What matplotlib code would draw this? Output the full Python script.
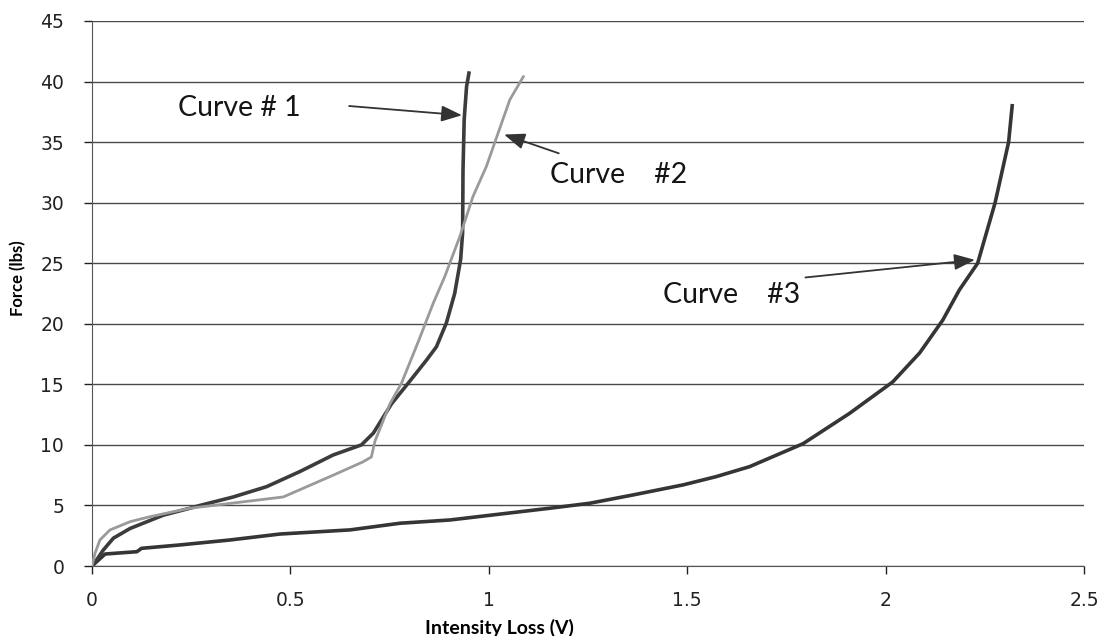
import matplotlib
matplotlib.use('Agg')
import matplotlib.pyplot as plt

# values
curve1_x = [0, 0.003, 0.028, 0.054, 0.096, 0.18, 0.247, 0.272, 0.356, 0.44, 0.524, 0.608,
            0.679, 0.709, 0.755, 0.797, 0.843, 0.868, 0.893, 0.914, 0.929, 0.934, 0.935,
            0.938, 0.944, 0.950]
curve1_y = [0, 0.08, 1.3, 2.3, 3.1, 4.2, 4.77, 5.0, 5.7, 6.55, 7.8, 9.17,
            10.0, 10.97, 13.4, 15.1, 17.0, 18.1, 20.06, 22.5, 25.3, 27.5, 32.7,
            36.9, 39.6, 40.7]

curve2_x = [0, 0.0076, 0.020, 0.045, 0.096, 0.146, 0.247, 0.356, 0.482, 0.608, 0.683,
            0.704, 0.713, 0.751, 0.780, 0.822, 0.860, 0.889, 0.927, 0.960, 0.994, 1.024,
            1.053, 1.087]
curve2_y = [0, 1.05, 2.15, 2.97, 3.66, 4.07, 4.77, 5.2, 5.7, 7.5, 8.6,
            9.0, 10.3, 13.4, 15.1, 18.5, 21.7, 23.9, 27.2, 30.5, 33.0, 35.8,
            38.5, 40.4]

curve3_x = [0, 0.033, 0.113, 0.125, 0.222, 0.348, 0.474, 0.650, 0.776, 0.902, 1.154,
            1.254, 1.364, 1.490, 1.573, 1.657, 1.792, 1.909, 2.018, 2.086, 2.144, 2.186,
            2.232, 2.276, 2.31, 2.319]
curve3_y = [0, 0.99, 1.18, 1.46, 1.74, 2.15, 2.64, 2.98, 3.53, 3.8, 4.77,
            5.18, 5.87, 6.7, 7.38, 8.2, 10.1, 12.6, 15.2, 17.6, 20.3, 22.8,
            25, 30, 35, 38]

x_ticks = [0, 0.5, 1, 1.5, 2, 2.5]
x_tick_labels = ['0', '0.5', '1', '1.5', '2', '2.5']
y_ticks = [0, 5, 10, 15, 20, 25, 30, 35, 40, 45]

labels = ['Curve # 1', 'Curve    #2', 'Curve    #3']
label_pos = [(0.217, 37.8), (1.154, 32.3), (1.438, 22.4)]
arrow_from = [(0.641, 38.0), (1.183, 34.0), (1.791, 23.8)]
arrow_to = [(0.9395, 37.2), (1.032, 35.7), (2.232, 25.3)]

fig = plt.figure(figsize=(11.04, 6.36), dpi=100)
ax = fig.add_axes([92/1104, 70/636, 992/1104, 545/636])

ax.plot(curve3_x, curve3_y, color='#353535', lw=2.6, zorder=3)
ax.plot(curve1_x, curve1_y, color='#3c3c3c', lw=2.6, zorder=3)
ax.plot(curve2_x, curve2_y, color='#9a9a9a', lw=2.0, zorder=4)

ax.set_xlim(0, 2.5)
ax.set_ylim(0, 45)
ax.set_xticks(x_ticks)
ax.set_xticklabels(x_tick_labels)
ax.set_yticks(y_ticks)
ax.tick_params(axis='both', labelsize=13.5, colors='#222222', length=6, width=1, direction='out')
ax.tick_params(axis='x', pad=12)
ax.tick_params(axis='y', pad=14)

ax.grid(axis='y', color='#4a4a4a', lw=1.0)
ax.set_axisbelow(True)
for s in ['top', 'right']:
    ax.spines[s].set_visible(False)
ax.spines['left'].set_color('#555555')
ax.spines['bottom'].set_color('#555555')

ax.set_xlabel('Intensity Loss (V)', fontsize=14, fontweight='bold', family='Lato')
ax.set_ylabel('Force (lbs)', fontsize=12, fontweight='bold', family='Lato')
ax.xaxis.set_label_coords(0.411, -0.114)
ax.yaxis.set_label_coords(-0.0746, 0.528)
ax.xaxis.label.set_va('center')
ax.yaxis.label.set_va('center')

for txt, pos, a0, a1 in zip(labels, label_pos, arrow_from, arrow_to):
    ax.text(pos[0], pos[1], txt, fontsize=20.5, family='Lato', color='#151515', va='center', ha='left')
    ax.annotate('', xy=a1, xytext=a0,
                arrowprops=dict(arrowstyle='-|>,head_length=0.9,head_width=0.35',
                                color='#333333', lw=1.3, mutation_scale=14))

fig.savefig('out.png', dpi=100)
